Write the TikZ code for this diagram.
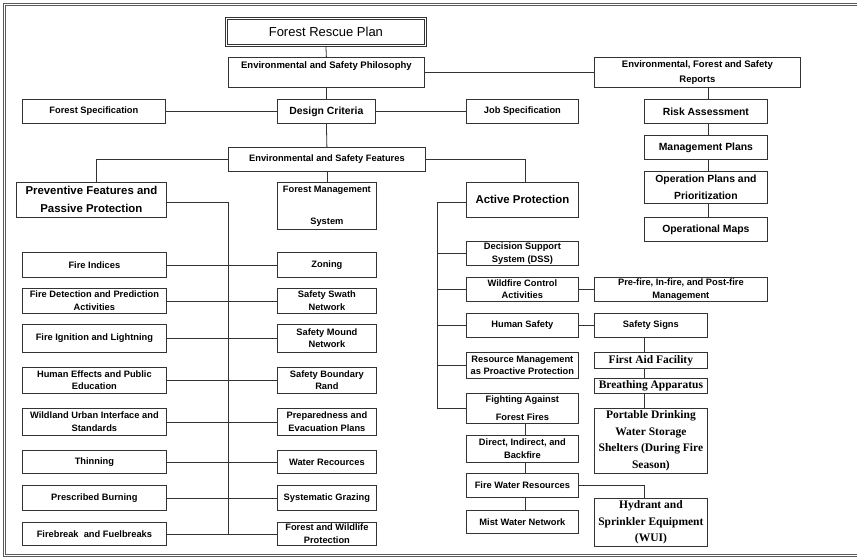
\documentclass[tikz,border=0pt]{standalone}
\usepackage{fontspec}
\setmainfont{Liberation Sans}
\newfontfamily\timesbf{Liberation Serif}
\usetikzlibrary{positioning}

\begin{document}
\begin{tikzpicture}[x=1pt, y=-1pt,
    box/.style={draw=black!80, line width=0.8pt, inner sep=0pt, align=center, anchor=north west},
    small/.style={box, font=\bfseries\fontsize{9.3}{12.5}\selectfont},
    mid/.style={box, font=\bfseries\fontsize{9.5}{15}\selectfont},
    large/.style={box, font=\bfseries\fontsize{10.4}{17}\selectfont},
    huge/.style={box, font=\bfseries\fontsize{11.4}{18}\selectfont},
    serifbox/.style={box, font=\timesbf\bfseries\fontsize{11.5}{16.5}\selectfont},
    link/.style={draw=black!80, line width=0.8pt},
    frame/.style={draw=black!65, line width=0.7pt}]
    % page 857 x 558
    \useasboundingbox (0,0) rectangle (857,558);

    % cadre double (le bord droit sort de la page)
    \draw[frame] (857,3.5) -- (3.5,3.5) -- (3.5,556) -- (857,556);
    \draw[frame] (857,5.5) -- (5.5,5.5) -- (5.5,554) -- (857,554);

    % haut du plan
    \node[box, double, double distance=1.2pt, minimum width=199, minimum height=27,
          font=\fontsize{13}{15}\selectfont] (plan) at (226,18) {Forest Rescue Plan};
    \node[mid, minimum width=196, minimum height=30] (philo) at (228,57) {Environmental and Safety Philosophy\\~};
    \node[mid, minimum width=206, minimum height=30] (reports) at (594,57) {Environmental, Forest and Safety\\Reports};
    \node[small, minimum width=143, minimum height=24] (fspec) at (22,99) {Forest Specification};
    \node[large, minimum width=98, minimum height=24] (design) at (277,99) {Design Criteria};
    \node[small, minimum width=112, minimum height=24] (jspec) at (466,99) {Job Specification};

    % colonne des rapports
    \node[large, minimum width=123, minimum height=24] (risk) at (644,99) {Risk Assessment};
    \node[large, minimum width=123, minimum height=24] (mgmt) at (644,135) {Management Plans};
    \node[large, minimum width=123, minimum height=32] (oper) at (644,171) {Operation Plans and\\Prioritization};
    \node[large, minimum width=123, minimum height=24] (maps) at (644,217) {Operational Maps};

    \node[small, minimum width=197, minimum height=24] (features) at (228,147) {Environmental and Safety Features};
    \node[huge, minimum width=150, minimum height=35] (prev) at (16,182) {Preventive Features and\\Passive Protection};
    \node[small, minimum width=99, minimum height=47] (fms) at (277,182) {Forest Management\\[19.5pt]System};
    \node[huge, minimum width=112, minimum height=35] (active) at (466,182) {Active Protection};

    % protection passive : colonne gauche
    \node[small, minimum width=144, minimum height=25] (idx) at (22,252) {Fire Indices};
    \node[small, minimum width=144, minimum height=25] (detect) at (22,288) {Fire Detection and Prediction\\Activities};
    \node[small, minimum width=144, minimum height=28] (ignit) at (22,324) {Fire Ignition and Lightning};
    \node[small, minimum width=144, minimum height=26] (human) at (22,367) {Human Effects and Public\\Education};
    \node[small, minimum width=144, minimum height=27] (wui) at (22,408) {Wildland Urban Interface and\\Standards};
    \node[small, minimum width=144, minimum height=23] (thin) at (22,450) {Thinning};
    \node[small, minimum width=144, minimum height=25] (burn) at (22,485) {Prescribed Burning};
    \node[small, minimum width=144, minimum height=23] (brk) at (22,522) {Firebreak \ and Fuelbreaks};

    % protection passive : colonne droite
    \node[small, minimum width=99, minimum height=25] (zon) at (277,252) {Zoning};
    \node[small, minimum width=99, minimum height=25] (swath) at (277,288) {Safety Swath\\Network};
    \node[small, minimum width=99, minimum height=28] (mound) at (277,324) {Safety Mound\\Network};
    \node[small, minimum width=99, minimum height=26] (rand) at (277,367) {Safety Boundary\\Rand};
    \node[small, minimum width=99, minimum height=27] (evac) at (277,408) {Preparedness and\\Evacuation Plans};
    \node[small, minimum width=99, minimum height=23] (water) at (277,450) {Water Recources};
    \node[small, minimum width=99, minimum height=25] (graz) at (277,485) {Systematic Grazing};
    \node[small, minimum width=99, minimum height=23] (wild) at (277,522) {Forest and Wildlife\\Protection};

    % protection active
    \node[small, minimum width=112, minimum height=24] (dss) at (466,241) {Decision Support\\System (DSS)};
    \node[small, minimum width=112, minimum height=24] (ctrl) at (466,277) {Wildfire Control\\Activities};
    \node[small, minimum width=112, minimum height=24] (hsafe) at (466,313) {Human Safety};
    \node[small, minimum width=112, minimum height=26] (resm) at (466,352) {Resource Management\\as Proactive Protection};
    \node[small, minimum width=112, minimum height=30] (fight) at (466,393) {Fighting Against\\[5.5pt]Forest Fires};
    \node[small, minimum width=112, minimum height=27] (direct) at (466,435) {Direct, Indirect, and\\Backfire};
    \node[small, minimum width=112, minimum height=24] (fwr) at (466,473) {Fire Water Resources};
    \node[small, minimum width=112, minimum height=23] (mist) at (466,510) {Mist Water Network};

    \node[small, minimum width=173, minimum height=24] (prefire) at (594,277) {Pre-fire, In-fire, and Post-fire\\Management};
    \node[small, minimum width=113, minimum height=24] (signs) at (594,313) {Safety Signs};
    \node[serifbox, minimum width=113, minimum height=16] (aid) at (594,352) {First Aid Facility};
    \node[serifbox, minimum width=113, minimum height=15] (breath) at (594,378) {Breathing Apparatus};
    \node[serifbox, minimum width=113, minimum height=65] (shelter) at (594,408) {Portable Drinking\\Water Storage\\Shelters (During Fire\\Season)};
    \node[serifbox, minimum width=113, minimum height=48] (hydrant) at (594,498) {Hydrant and\\Sprinkler Equipment\\(WUI)};

    % liaisons du haut
    \draw[link] (plan.south) -- (philo.north);
    \draw[link] (philo.south) -- (design.north);
    \draw[link] (philo.east) -- (reports.west);
    \draw[link] (fspec.east) -- (design.west);
    \draw[link] (design.east) -- (jspec.west);
    \draw[link] (design.south) -- (features.north);
    \draw[link] ([xshift=2pt]risk.north |- reports.south) -- ([xshift=2pt]risk.north);
    \draw[link] ([xshift=2pt]risk.south) -- ([xshift=2pt]mgmt.north);
    \draw[link] ([xshift=2pt]mgmt.south) -- ([xshift=2pt]oper.north);
    \draw[link] ([xshift=2pt]oper.south) -- ([xshift=2pt]maps.north);
    \draw[link] (features.west) -| ([xshift=5pt]prev.north);
    \draw[link] (features.east) -| ([xshift=3pt]active.north);
    \draw[link] (features.south) -- (fms.north);

    % bus gauche
    \coordinate (pbus) at (228,0);
    \draw[link] ([yshift=-2.5pt]prev.east) -| (pbus |- brk.east);
    \draw[link] (idx.east) -- (zon.west);
    \draw[link] (detect.east) -- (swath.west);
    \draw[link] (ignit.east) -- (mound.west);
    \draw[link] (human.east) -- (rand.west);
    \draw[link] (wui.east) -- (evac.west);
    \draw[link] (thin.east) -- (water.west);
    \draw[link] (burn.east) -- (graz.west);
    \draw[link] (brk.east) -- (wild.west);

    % bus droit
    \coordinate (abus) at (437,0);
    \draw[link] ([yshift=-2.5pt]active.west) -| (abus |- fight.west) -- (fight.west);
    \draw[link] (abus |- dss.west) -- (dss.west);
    \draw[link] (abus |- ctrl.west) -- (ctrl.west);
    \draw[link] (abus |- hsafe.west) -- (hsafe.west);
    \draw[link] (abus |- resm.west) -- (resm.west);
    \draw[link] ([xshift=3pt]fight.south) -- ([xshift=3pt]direct.north);
    \draw[link] ([xshift=3pt]direct.south) -- ([xshift=3pt]fwr.north);
    \draw[link] ([xshift=3pt]fwr.south) -- ([xshift=3pt]mist.north);
    \draw[link] (ctrl.east) -- (prefire.west);
    \draw[link] (hsafe.east) -- (signs.west);
    \draw[link] ([xshift=-6.5pt]signs.south) -- ([xshift=-6.5pt]aid.north);
    \draw[link] ([xshift=-6.5pt]aid.south) -- ([xshift=-6.5pt]breath.north);
    \draw[link] ([xshift=-6.5pt]breath.south) -- ([xshift=-6.5pt]shelter.north);
    \draw[link] (fwr.east) -| ([xshift=-6.5pt]hydrant.north);
\end{tikzpicture}
\end{document}
